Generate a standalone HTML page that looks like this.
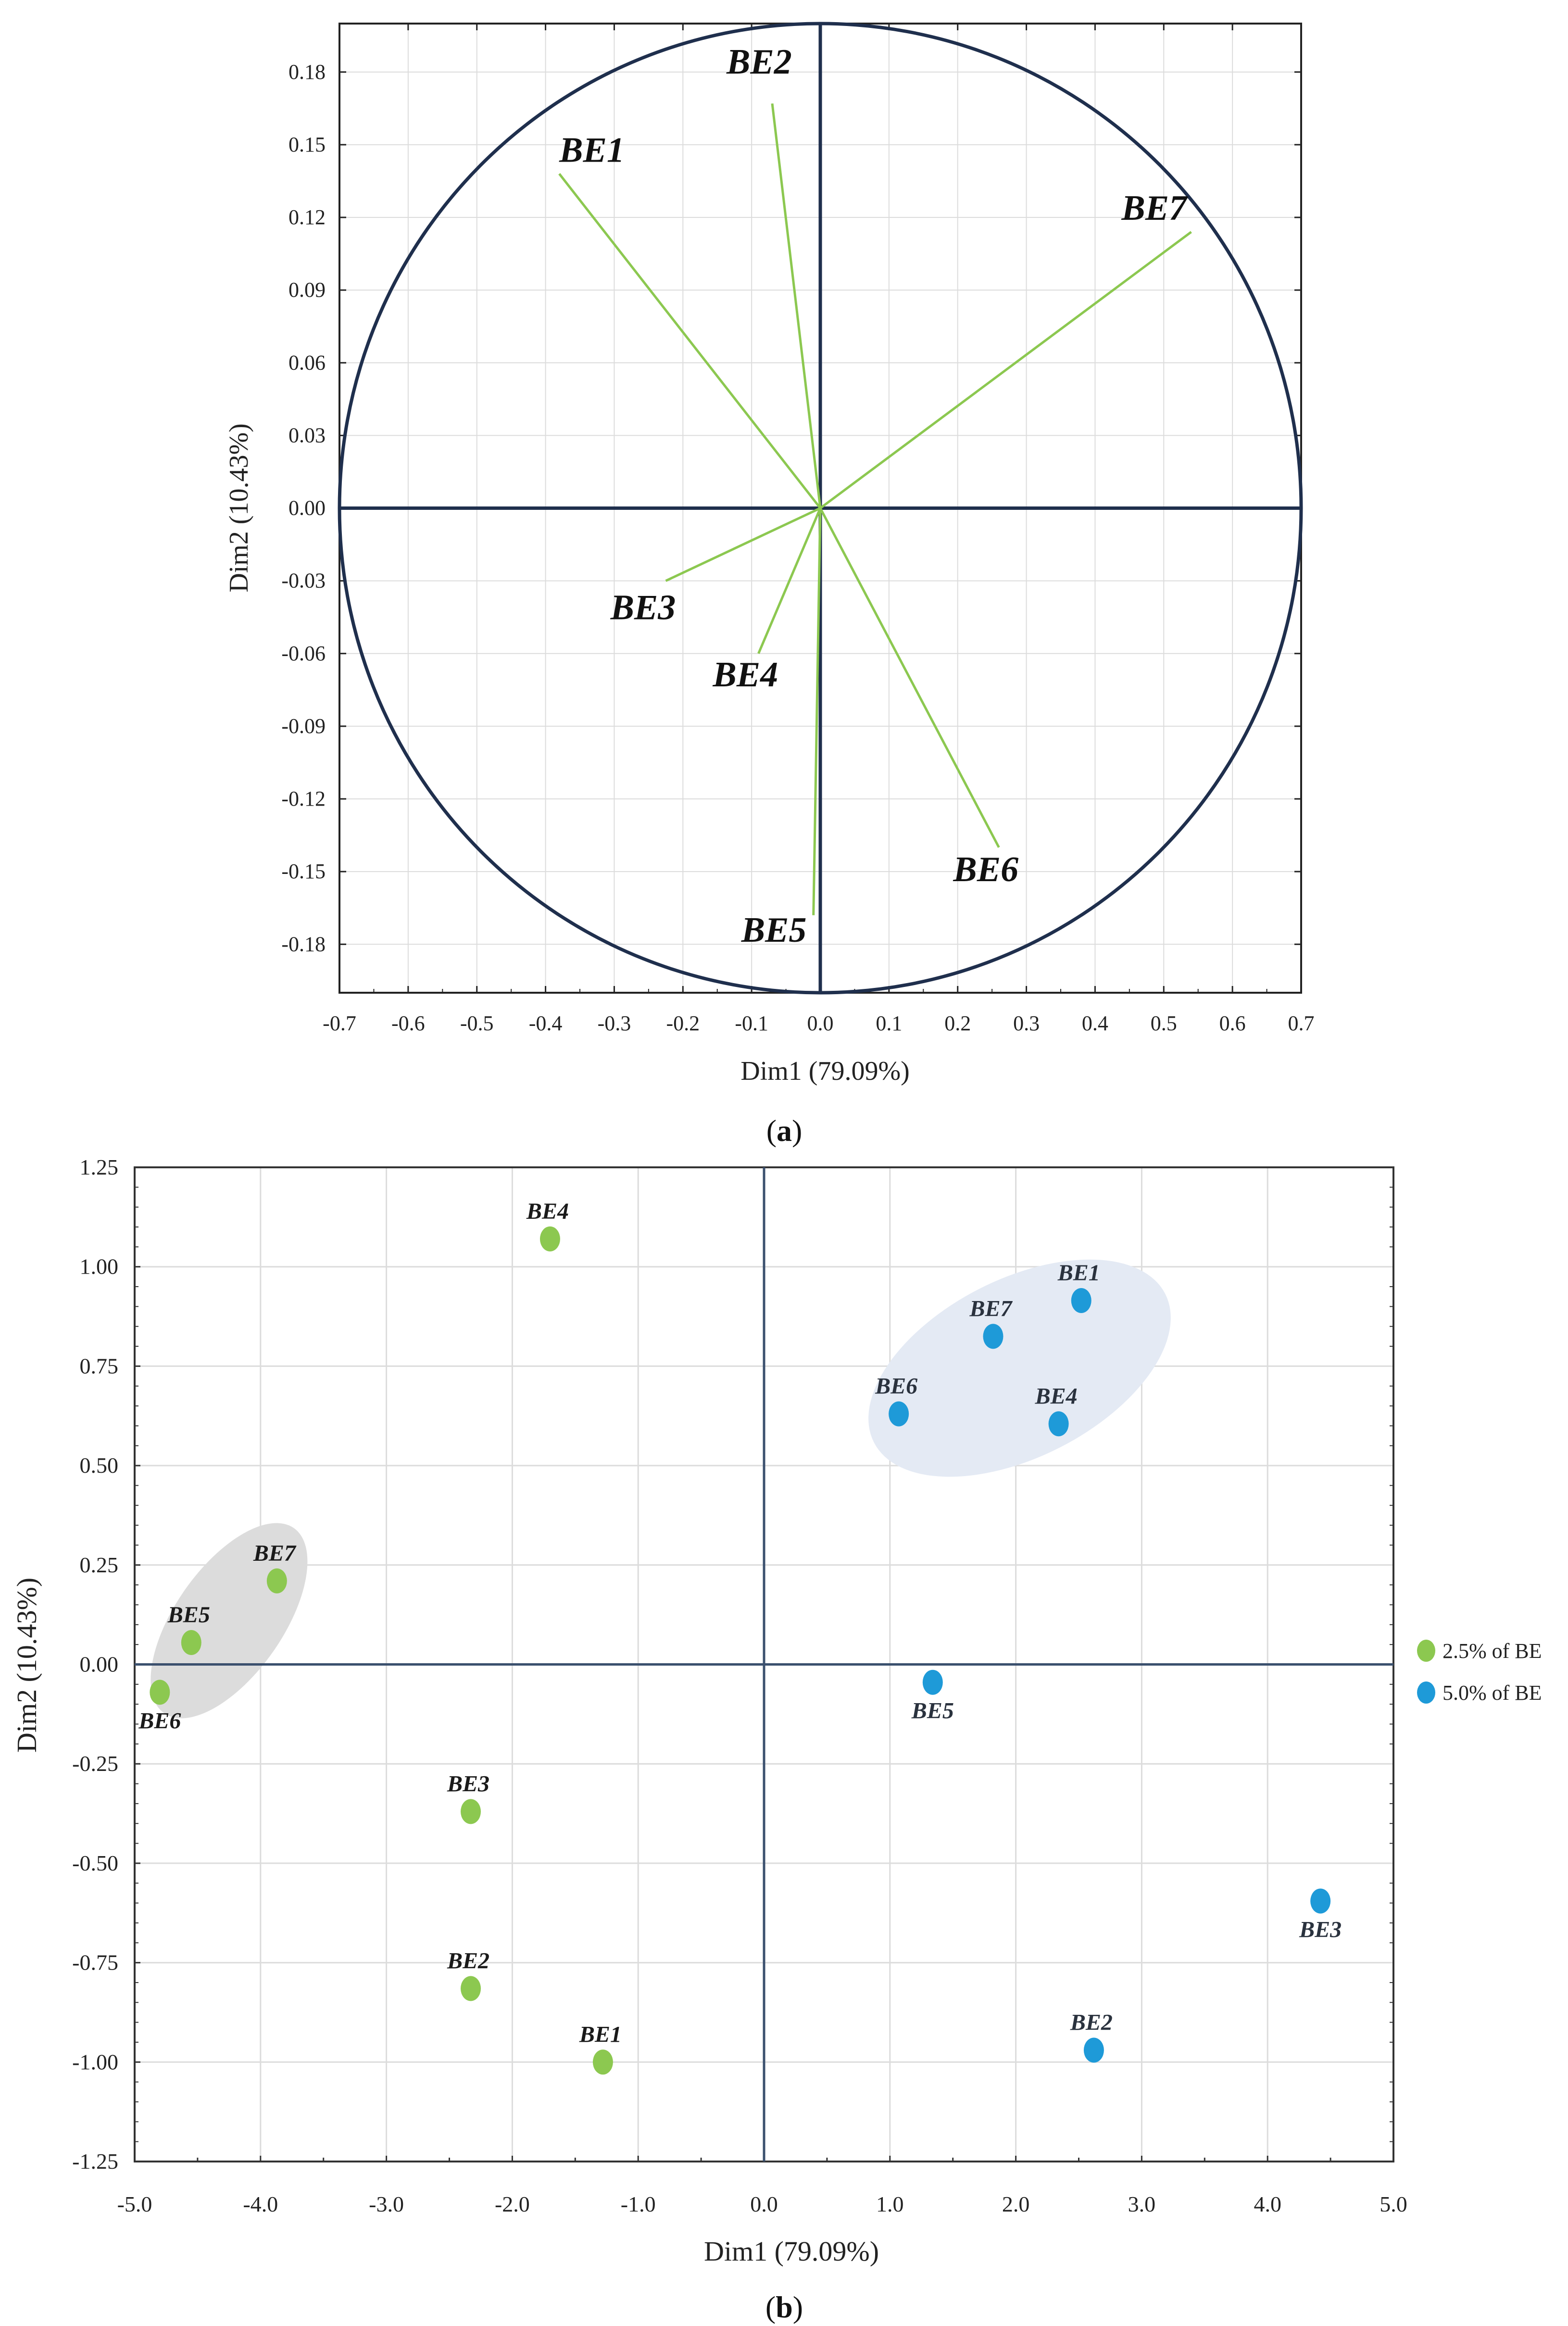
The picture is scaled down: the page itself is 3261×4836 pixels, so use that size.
<!DOCTYPE html>
<html><head><meta charset="utf-8"><style>
html,body{margin:0;padding:0;background:#fff;}
svg{display:block;}
text{font-family:"Liberation Serif",serif;}
</style></head><body>
<svg id="fig" width="3261" height="4836" viewBox="0 0 3261 4836" xmlns="http://www.w3.org/2000/svg">
<rect width="3261" height="4836" fill="#fff"/>
<g id="pa"></g>
<g id="pb"></g>
</svg>
<script>
// ---- Panel (a) data ----
const aNames = ["BE1","BE2","BE3","BE4","BE5","BE6","BE7"];
const aDim1 = [-0.38,-0.07,-0.225,-0.09,-0.01,0.26,0.54];
const aDim2 = [0.138,0.167,-0.03,-0.06,-0.168,-0.14,0.114];
const aXTicks = ["-0.7","-0.6","-0.5","-0.4","-0.3","-0.2","-0.1","0.0","0.1","0.2","0.3","0.4","0.5","0.6","0.7"];
const aYTicks = ["0.18","0.15","0.12","0.09","0.06","0.03","0.00","-0.03","-0.06","-0.09","-0.12","-0.15","-0.18"];
// ---- Panel (b) data ----
const bGreenNames = ["BE1","BE2","BE3","BE4","BE5","BE6","BE7"];
const bGreenX = [-1.28,-2.33,-2.33,-1.7,-4.55,-4.8,-3.87];
const bGreenY = [-1.0,-0.815,-0.37,1.07,0.055,-0.07,0.21];
const bBlueNames = ["BE1","BE2","BE3","BE4","BE5","BE6","BE7"];
const bBlueX = [2.52,2.62,4.42,2.34,1.34,1.07,1.82];
const bBlueY = [0.915,-0.97,-0.595,0.605,-0.045,0.63,0.825];
const bXTicks = ["-5.0","-4.0","-3.0","-2.0","-1.0","0.0","1.0","2.0","3.0","4.0","5.0"];
const bYTicks = ["1.25","1.00","0.75","0.50","0.25","0.00","-0.25","-0.50","-0.75","-1.00","-1.25"];
const legendLabels = ["2.5% of BE","5.0% of BE"];

const NS="http://www.w3.org/2000/svg";
function mk(parent,tag,attrs,txt){const e=document.createElementNS(NS,tag);for(const k in attrs)e.setAttribute(k,attrs[k]);if(txt!==undefined)e.textContent=txt;parent.appendChild(e);return e;}

// ===== Panel A =====
(function(){
const g=document.getElementById('pa');
const L=706,R=2706,T=49,B=2064;
const sx=v=>L+(v+0.7)/1.4*(R-L);
const sy=v=>T+(0.2-v)/0.4*(B-T);
aXTicks.forEach(t=>{const v=parseFloat(t);const x=sx(v);
 if(v>-0.69&&v<0.69){const l=mk(g,'line',{x1:x,y1:T,x2:x,y2:B,stroke:'#dcdcdc','stroke-width':2});}
 mk(g,'line',{x1:x,y1:B,x2:x,y2:B-14,stroke:'#222','stroke-width':3});
 mk(g,'line',{x1:x,y1:T,x2:x,y2:T+14,stroke:'#222','stroke-width':3});
 const tx=mk(g,'text',{x:x,y:2142,'font-size':44,'text-anchor':'middle',fill:'#222'},t);
 
});
for(let i=0;i<14;i++){const x=sx(-0.65+i*0.1);mk(g,'line',{x1:x,y1:B,x2:x,y2:B-8,stroke:'#222','stroke-width':2});}
aYTicks.forEach(t=>{const v=parseFloat(t);const y=sy(v);
 const l=mk(g,'line',{x1:L,y1:y,x2:R,y2:y,stroke:'#dcdcdc','stroke-width':2});
 mk(g,'line',{x1:L,y1:y,x2:L+14,y2:y,stroke:'#222','stroke-width':3});
 mk(g,'line',{x1:R,y1:y,x2:R-14,y2:y,stroke:'#222','stroke-width':3});
 const tx=mk(g,'text',{x:677,y:y+14,'font-size':44,'text-anchor':'end',fill:'#222'},t);
 
});
const fr=mk(g,'rect',{x:L,y:T,width:R-L,height:B-T,fill:'none',stroke:'#222','stroke-width':4});

const c=mk(g,'ellipse',{cx:sx(0),cy:sy(0),rx:(R-L)/2,ry:(B-T)/2,fill:'none',stroke:'#1f2f4d','stroke-width':7});

const ax1=mk(g,'line',{x1:L,y1:sy(0),x2:R,y2:sy(0),stroke:'#1f2f4d','stroke-width':7});

const ax2=mk(g,'line',{x1:sx(0),y1:T,x2:sx(0),y2:B,stroke:'#1f2f4d','stroke-width':7});

const lblOff={BE1:[0,-25],BE2:[-95,-62],BE3:[-115,80],BE4:[-95,68],BE5:[-150,55],BE6:[-95,70],BE7:[-145,-25]};
aNames.forEach((n,i)=>{
 const x=sx(aDim1[i]),y=sy(aDim2[i]);
 const l=mk(g,'line',{x1:sx(0),y1:sy(0),x2:x,y2:y,stroke:'#8cc850','stroke-width':5});
 
 const o=lblOff[n];
 const t=mk(g,'text',{x:x+o[0],y:y+o[1],'font-size':74,'font-weight':'bold','font-style':'italic',fill:'#111'},n);
 
});
const xt=mk(g,'text',{x:1716,y:2245,'font-size':56,'text-anchor':'middle',fill:'#222'},'Dim1 (79.09%)');

const yt=mk(g,'text',{x:0,y:0,'font-size':56,'text-anchor':'middle',fill:'#222',transform:'translate(515,1056) rotate(-90)'},'Dim2 (10.43%)');

const cap=mk(g,'text',{x:1631,y:2372,'font-size':64,'text-anchor':'middle',fill:'#111'});

mk(cap,'tspan',{},'(');mk(cap,'tspan',{'font-weight':'bold'},'a');mk(cap,'tspan',{},')');
})();

// ===== Panel B =====
(function(){
const g=document.getElementById('pb');
const L=280,R=2898,T=2427,B=4494;
const sx=v=>L+(v+5)/10*(R-L);
const sy=v=>T+(1.25-v)/2.5*(B-T);
bXTicks.forEach(t=>{const v=parseFloat(t);const x=sx(v);
 if(v>-4.9&&v<4.9){const l=mk(g,'line',{x1:x,y1:T,x2:x,y2:B,stroke:'#dcdcdc','stroke-width':3});}
 mk(g,'line',{x1:x,y1:B,x2:x,y2:B-12,stroke:'#333','stroke-width':3});
 if(v<4.9){mk(g,'line',{x1:x+(R-L)/20,y1:B,x2:x+(R-L)/20,y2:B-8,stroke:'#333','stroke-width':3});}
 const tx=mk(g,'text',{x:x,y:4598,'font-size':46,'text-anchor':'middle',fill:'#222'},t);
 
});
bYTicks.forEach(t=>{const v=parseFloat(t);const y=sy(v);
 if(v<1.24&&v>-1.24){const l=mk(g,'line',{x1:L,y1:y,x2:R,y2:y,stroke:'#dcdcdc','stroke-width':3});}
 mk(g,'line',{x1:L,y1:y,x2:L+12,y2:y,stroke:'#333','stroke-width':3});
 for(let k=1;k<5;k++){const yy=y+k*(B-T)/50;if(yy<B){mk(g,'line',{x1:L,y1:yy,x2:L+8,y2:yy,stroke:'#333','stroke-width':2});mk(g,'line',{x1:R,y1:yy,x2:R-8,y2:yy,stroke:'#333','stroke-width':2});}}
 const tx=mk(g,'text',{x:246,y:y+15,'font-size':46,'text-anchor':'end',fill:'#222'},t);
 
});
const e1=mk(g,'ellipse',{cx:sx(2.03),cy:sy(0.745),rx:340,ry:185,fill:'#e4eaf4',transform:'rotate(-27 '+sx(2.03)+' '+sy(0.745)+')'});

const e2=mk(g,'ellipse',{cx:sx(-4.25),cy:sy(0.11),rx:235,ry:112,fill:'#dcdcdc',transform:'rotate(-55 '+sx(-4.25)+' '+sy(0.11)+')'});

const fr=mk(g,'rect',{x:L,y:T,width:R-L,height:B-T,fill:'none',stroke:'#333','stroke-width':4});

const ax1=mk(g,'line',{x1:L,y1:sy(0),x2:R,y2:sy(0),stroke:'#3b506e','stroke-width':5});

const ax2=mk(g,'line',{x1:sx(0),y1:T,x2:sx(0),y2:B,stroke:'#3b506e','stroke-width':5});

const below={g_BE6:true,b_BE5:true,b_BE3:true};
function pts(names,xs,ys,color,pre,txtColor){
 names.forEach((n,i)=>{
  const x=sx(xs[i]),y=sy(ys[i]);
  const p=mk(g,'ellipse',{cx:x,cy:y,rx:21,ry:26,fill:color});
  
  const dy=below[pre+'_'+n]?75:-42;
  const t=mk(g,'text',{x:x+(below[pre+'_'+n]?0:-5),y:y+dy,'font-size':48,'font-weight':'bold','font-style':'italic','text-anchor':'middle',fill:txtColor},n);
  
 });
}
pts(bGreenNames,bGreenX,bGreenY,'#8cc850','g','#1a1a1a');
pts(bBlueNames,bBlueX,bBlueY,'#1e9ad8','b','#2a323e');
const legC=['#8cc850','#1e9ad8'];
legendLabels.forEach((s,i)=>{
 const y=3432+i*87;
 const m=mk(g,'ellipse',{cx:2966,cy:y,rx:19,ry:23,fill:legC[i]});
 
 const t=mk(g,'text',{x:3000,y:y+15,'font-size':44,fill:'#222'},s);
 
});
const xt=mk(g,'text',{x:1646,y:4700,'font-size':58,'text-anchor':'middle',fill:'#222'},'Dim1 (79.09%)');

const yt=mk(g,'text',{x:0,y:0,'font-size':58,'text-anchor':'middle',fill:'#222',transform:'translate(75,3462) rotate(-90)'},'Dim2 (10.43%)');

const cap=mk(g,'text',{x:1631,y:4818,'font-size':64,'text-anchor':'middle',fill:'#111'});

mk(cap,'tspan',{},'(');mk(cap,'tspan',{'font-weight':'bold'},'b');mk(cap,'tspan',{},')');
})();
</script>
</body></html>
